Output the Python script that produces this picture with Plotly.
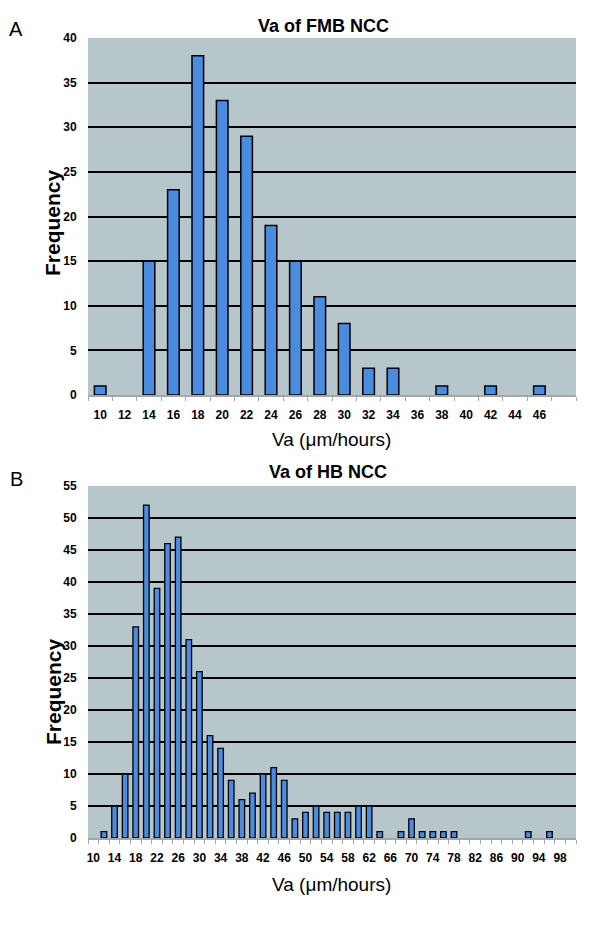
import plotly.graph_objects as go

# Panel A: Va of FMB NCC
fmb_bins = [10, 12, 14, 16, 18, 20, 22, 24, 26, 28, 30, 32, 34, 36, 38, 40, 42, 44, 46, 48]
fmb_freq = [1, 0, 15, 23, 38, 33, 29, 19, 15, 11, 8, 3, 3, 0, 1, 0, 1, 0, 1, 0]
fmb_labels = ["10", "12", "14", "16", "18", "20", "22", "24", "26", "28", "30",
              "32", "34", "36", "38", "40", "42", "44", "46", ""]

# Panel B: Va of HB NCC
hb_bins = list(range(10, 101, 2))
hb_freq = [0, 1, 5, 10, 33, 52, 39, 46, 47, 31, 26, 16, 14, 9, 6, 7, 10, 11, 9,
           3, 4, 5, 4, 4, 4, 5, 5, 1, 0, 1, 3, 1, 1, 1, 1, 0, 0, 0, 0, 0, 0, 1,
           0, 1, 0, 0]
hb_labels = [str(v) if i % 2 == 0 else "" for i, v in enumerate(hb_bins)]

font = "Arial, Liberation Sans, sans-serif"
bar_color = "#4a8ce0"
bg = "#b7c6ca"
axis_gray = "#a0a8aa"

# the page puts the figure 8px in from the corner, so work in page pixels
OFF = 8
L, R, T, B = 88, 576, 38, 838  # plot area in page pixels
W, H = 600, 932


def px(x):
    return (x - L) / (R - L)


def py(y):
    return (B - y) / (B - T)


fig = go.Figure()
fig.add_trace(go.Bar(x=fmb_bins, y=fmb_freq, width=0.95, xaxis="x", yaxis="y",
                     marker=dict(color=bar_color,
                                 line=dict(color="black", width=[1.5 if v else 0 for v in fmb_freq]))))
fig.add_trace(go.Bar(x=hb_bins, y=hb_freq, width=1.05, xaxis="x2", yaxis="y2",
                     marker=dict(color=bar_color,
                                 line=dict(color="black", width=[1.3 if v else 0 for v in hb_freq]))))

tickfont = dict(family=font, size=12, color="black", weight="bold")

fig.update_layout(
    width=W, height=H,
    paper_bgcolor="white", plot_bgcolor=bg,
    showlegend=False,
    margin=dict(l=L - OFF, r=W - (R - OFF), t=T - OFF, b=H - (B - OFF)),
    font=dict(family=font, color="black"),
    xaxis=dict(domain=[0, 1], anchor="y", range=[9, 49],
               tickmode="array", tickvals=fmb_bins, ticktext=fmb_labels,
               ticks="outside", ticklen=8, tickcolor="rgba(0,0,0,0)",
               tickfont=tickfont, showgrid=False, zeroline=False,
               showline=True, linecolor=axis_gray, linewidth=1.5,
               minor=dict(tickmode="array", tickvals=[b - 1 for b in fmb_bins] + [49],
                          ticks="outside", ticklen=4, tickcolor=axis_gray, showgrid=False)),
    yaxis=dict(domain=[py(395), 1], anchor="x", range=[0, 40], dtick=5,
               showgrid=True, gridcolor="black", gridwidth=1.5, zeroline=False,
               ticks="outside", ticklen=8, tickcolor="rgba(0,0,0,0)",
               tickfont=tickfont, showline=False),
    xaxis2=dict(domain=[0, 1], anchor="y2", range=[9, 101],
                tickmode="array", tickvals=hb_bins, ticktext=hb_labels,
                ticks="outside", ticklen=8, tickcolor="rgba(0,0,0,0)",
                tickfont=tickfont, showgrid=False, zeroline=False,
                showline=True, linecolor=axis_gray, linewidth=1.5,
                minor=dict(tickmode="array", tickvals=[b - 1 for b in hb_bins] + [101],
                           ticks="outside", ticklen=4, tickcolor=axis_gray, showgrid=False)),
    yaxis2=dict(domain=[0, py(486)], anchor="x2", range=[0, 55], dtick=5,
                showgrid=True, gridcolor="black", gridwidth=1.5, zeroline=False,
                ticks="outside", ticklen=8, tickcolor="rgba(0,0,0,0)",
                tickfont=tickfont, showline=False),
)

ann = [
    dict(text="A", x=16, y=29, size=20, weight="normal"),
    dict(text="Va of FMB NCC", x=323, y=26, size=18, weight="bold"),
    dict(text="Va (\u03bcm/hours)", x=331, y=440, size=19, weight="normal"),
    dict(text="B", x=16, y=479, size=20, weight="normal"),
    dict(text="Va of HB NCC", x=328, y=472, size=18, weight="bold"),
    dict(text="Va (\u03bcm/hours)", x=331, y=884, size=19, weight="normal"),
]
for a in ann:
    fig.add_annotation(text=a["text"], xref="paper", yref="paper",
                       x=px(a["x"]), y=py(a["y"]),
                       xanchor="center", yanchor="middle", showarrow=False,
                       font=dict(family=font, size=a["size"], color="black", weight=a["weight"]))

for yc in [223, 692]:
    fig.add_annotation(text="Frequency", xref="paper", yref="paper",
                       x=px(53), y=py(yc), textangle=-90,
                       xanchor="center", yanchor="middle", showarrow=False,
                       font=dict(family=font, size=21, color="black", weight="bold"))

fig.write_html("out.html")
